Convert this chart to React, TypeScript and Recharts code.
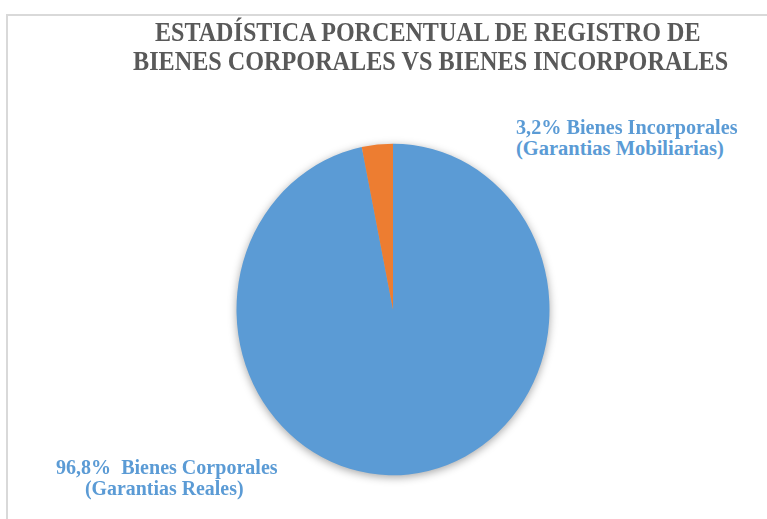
import { PieChart, Pie, Cell } from 'recharts';

const titleLines = [
  'ESTADÍSTICA PORCENTUAL DE REGISTRO DE',
  'BIENES CORPORALES VS BIENES INCORPORALES',
];

const names = ['Bienes Corporales', 'Bienes Incorporales'];
const subNames = ['(Garantias Reales)', '(Garantias Mobiliarias)'];
const values = [96.8, 3.2];
const colors = ['#5B9BD5', '#ED7D31'];

const pieData = names.map((name, i) => ({ name, value: values[i] }));

const fmt = (v: number) => v.toFixed(1).replace('.', ',') + '%';

const FONT = "'Liberation Serif', 'Times New Roman', serif";

// one line of text squeezed horizontally, anchored at its left edge
function Line(props: { x: number; baseline: number; size: number; color: string; text: string; scale: number }) {
  const { x, baseline, size, color, text, scale } = props;
  return (
    <div
      style={{
        position: 'absolute',
        left: x,
        top: baseline - size * 0.891,
        fontFamily: FONT,
        fontWeight: 'bold',
        fontSize: size,
        lineHeight: 1,
        color,
        whiteSpace: 'pre',
        transform: `scaleX(${scale})`,
        transformOrigin: '0 0',
      }}
    >
      {text}
    </div>
  );
}

export default function App() {
  return (
    <div style={{ position: 'relative', width: 767, height: 519, background: '#fff', overflow: 'hidden' }}>
      <style>{'body{margin:0}'}</style>

      {/* chart frame */}
      <div style={{ position: 'absolute', left: 6, top: 14, width: 2, height: 505, background: '#d9d9d9' }} />
      <div style={{ position: 'absolute', left: 6, top: 14, width: 761, height: 2, background: '#d9d9d9' }} />

      {/* pie, slightly stretched vertically like the original */}
      <div
        style={{
          position: 'absolute',
          left: 0,
          top: 0,
          transform: 'scaleY(1.059)',
          transformOrigin: '0 309.5px',
          filter: 'drop-shadow(0px 2px 4px rgba(0,0,0,0.35))',
        }}
      >
        <PieChart width={767} height={519} margin={{ top: 0, right: 0, bottom: 0, left: 0 }}>
          <Pie
            data={pieData}
            dataKey="value"
            nameKey="name"
            cx={393}
            cy={309.5}
            outerRadius={156.5}
            startAngle={90}
            endAngle={-270}
            stroke="none"
            isAnimationActive={false}
          >
            {pieData.map((d, i) => (
              <Cell key={d.name} fill={colors[i]} />
            ))}
          </Pie>
        </PieChart>
      </div>

      {/* title */}
      <Line x={155} baseline={43} size={28} color="#595959" text={titleLines[0]} scale={0.86} />
      <Line x={133} baseline={72} size={28} color="#595959" text={titleLines[1]} scale={0.864} />

      {/* slice labels */}
      <Line x={516} baseline={135} size={20.5} color="#5B9BD5" text={fmt(values[1]) + ' ' + names[1]} scale={0.985} />
      <Line x={516} baseline={156} size={20.5} color="#5B9BD5" text={subNames[1]} scale={1.0} />
      <Line x={56} baseline={475} size={20.5} color="#5B9BD5" text={fmt(values[0]) + '  ' + names[0]} scale={0.978} />
      <Line x={85} baseline={496} size={20.5} color="#5B9BD5" text={subNames[0]} scale={0.97} />
    </div>
  );
}
